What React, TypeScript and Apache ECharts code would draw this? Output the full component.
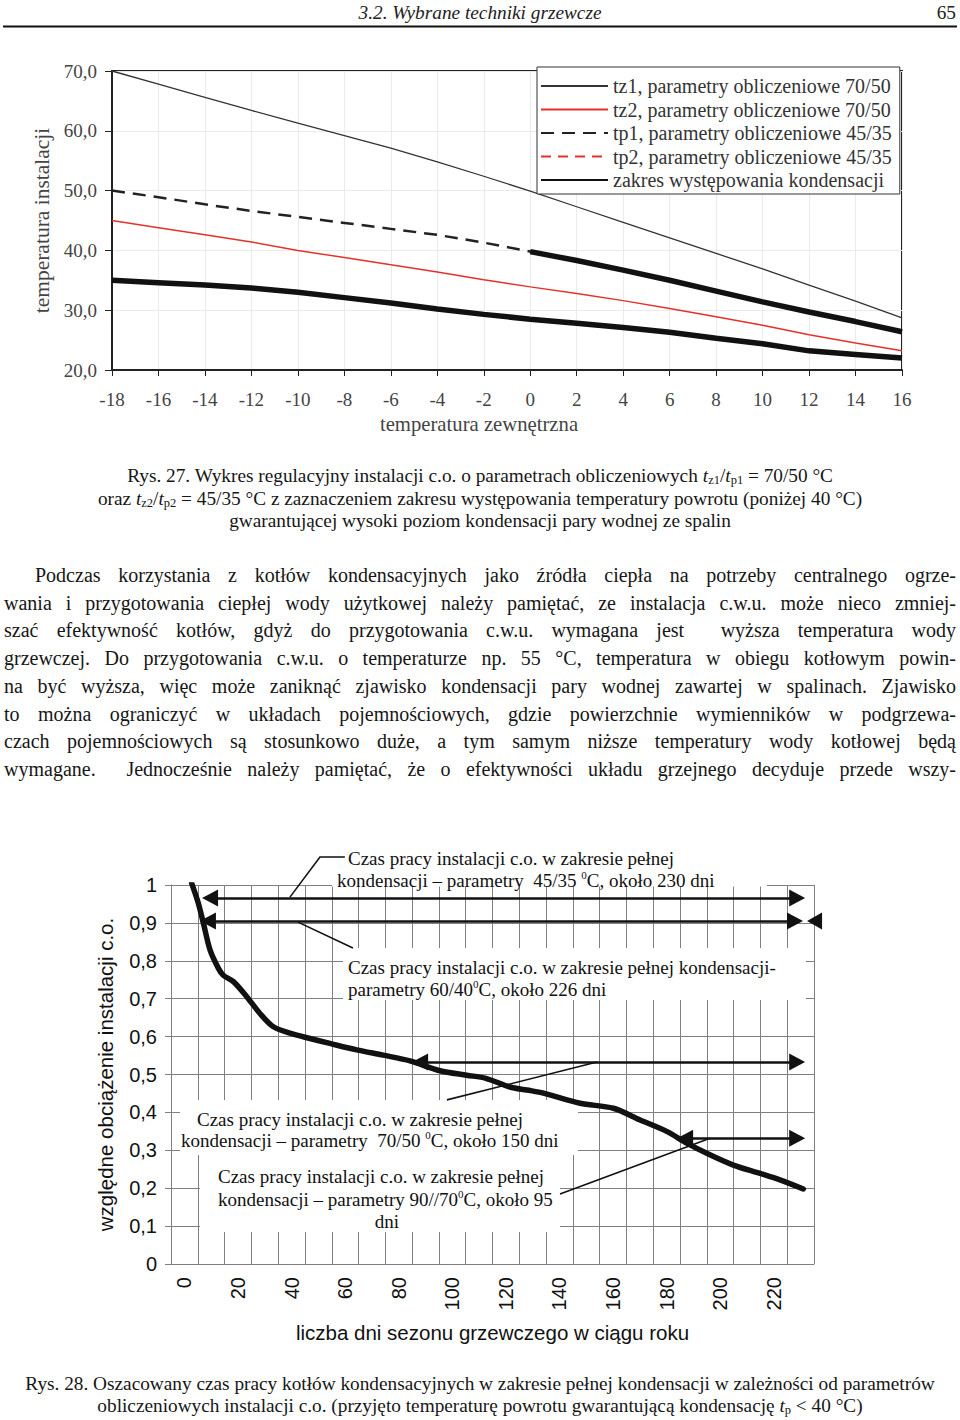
import React, { useEffect, useRef } from 'react';
import * as echarts from 'echarts';

// ---------------- Rys. 27 data ----------------
const outdoorTemps = [-18, -16, -14, -12, -10, -8, -6, -4, -2, 0, 2, 4, 6, 8, 10, 12, 14, 16];
const tz1Values = [70.0, 67.8, 65.6, 63.4, 61.3, 59.2, 57.1, 54.8, 52.4, 49.9, 47.3, 44.7, 42.1, 39.5, 36.9, 34.2, 31.5, 28.7];
const tz2Values = [45.0, 43.8, 42.6, 41.4, 40.0, 38.8, 37.6, 36.4, 35.1, 33.9, 32.8, 31.6, 30.3, 28.9, 27.5, 25.9, 24.5, 23.2];
const tp1Values = [50.0, 48.9, 47.7, 46.6, 45.6, 44.6, 43.6, 42.6, 41.3, 39.8, 38.3, 36.7, 35.0, 33.2, 31.4, 29.7, 28.1, 26.4];
const tp2Values = [35.0, 34.6, 34.2, 33.7, 33.0, 32.1, 31.2, 30.2, 29.3, 28.5, 27.8, 27.1, 26.3, 25.3, 24.4, 23.2, 22.6, 22.0];
const condensationLimit = 40;
const seriesNames27 = [
  'tz1, parametry obliczeniowe 70/50',
  'tz2, parametry obliczeniowe 70/50',
  'tp1, parametry obliczeniowe 45/35',
  'tp2, parametry obliczeniowe 45/35',
  'zakres występowania kondensacji',
];

// ---------------- Rys. 28 data ----------------
const dayCategories = ['0', '10', '20', '30', '40', '50', '60', '70', '80', '90', '100', '110', '120', '130', '140', '150', '160', '170', '180', '190', '200', '210', '220', '230'];
const loadCurveDays = [7.7, 10.2, 12.1, 14.6, 17.7, 19.5, 23.3, 28.2, 33.2, 38.2, 44.4, 51.9, 59.3, 69.3, 79.2, 89.2, 100.4, 110.4, 117.5, 126.5, 132.8, 139.0, 152.7, 165.1, 175.1, 185.0, 192.5, 200.0, 209.9, 219.9, 227.3, 236.0];
const loadCurveValues = [1.005, 0.952, 0.899, 0.828, 0.780, 0.762, 0.745, 0.706, 0.661, 0.626, 0.609, 0.595, 0.582, 0.565, 0.551, 0.536, 0.510, 0.498, 0.490, 0.467, 0.459, 0.451, 0.424, 0.411, 0.380, 0.350, 0.319, 0.292, 0.261, 0.239, 0.222, 0.198];
const regimeLoads = [0.966, 0.905, 0.533, 0.332];
const regimeStartDays = [11.6, 10.8, 90.0, 188.9];
const regimeEndDays = [236.7, 235.9, 236.7, 236.7];
const extraArrowTip = [237.4, 0.905];
const leaderLines = [
  [[64.9, 1.074], [55.6, 1.074], [44.4, 0.968]],
  [[47.4, 0.902], [67.9, 0.834]],
  [[159.0, 0.533], [103.0, 0.433]],
  [[201.2, 0.332], [145.2, 0.185]],
];

// ---------------- page text ----------------
const bodyLines = [
  'Podczas korzystania z kotłów kondensacyjnych jako źródła ciepła na potrzeby centralnego ogrze-',
  'wania i przygotowania ciepłej wody użytkowej należy pamiętać, ze instalacja c.w.u. może nieco zmniej-',
  'szać efektywność kotłów, gdyż do przygotowania c.w.u. wymagana jest  wyższa temperatura wody',
  'grzewczej. Do przygotowania c.w.u. o temperaturze np. 55 °C, temperatura w obiegu kotłowym powin-',
  'na być wyższa, więc może zaniknąć zjawisko kondensacji pary wodnej zawartej w spalinach. Zjawisko',
  'to można ograniczyć w układach pojemnościowych, gdzie powierzchnie wymienników w podgrzewa-',
  'czach pojemnościowych są stosunkowo duże, a tym samym niższe temperatury wody kotłowej będą',
  'wymagane.  Jednocześnie należy pamiętać, że o efektywności układu grzejnego decyduje przede wszy-',
];

const SERIF = '"Liberation Serif", "Times New Roman", serif';
const SANS = '"Liberation Sans", Arial, Helvetica, sans-serif';

const GRID2_W = 643;
const DAY_MAX = 240;

function buildOption() {
  const pts = (vals: number[]) => outdoorTemps.map((t, i) => [t, vals[i]]);
  const condA = outdoorTemps.map((t, i) => [t, tp1Values[i]]).filter((p) => p[1] < condensationLimit);
  const condB = pts(tp2Values);
  const halfArrowDays = (8 * DAY_MAX) / GRID2_W;

  const thick = { color: '#111', width: 5.5, type: 'solid' };

  return {
    animation: false,
    backgroundColor: '#fff',
    grid: [
      { left: 112, top: 71, width: 790, height: 299, show: true, borderColor: '#222', borderWidth: 2, backgroundColor: 'transparent' },
      { left: 171, top: 885, width: GRID2_W, height: 379 },
    ],
    legend: {
      orient: 'vertical',
      left: 537,
      top: 67,
      padding: [9, 8, 4, 3],
      itemWidth: 67,
      itemHeight: 14,
      itemGap: 3.5,
      backgroundColor: '#fff',
      borderColor: '#333',
      borderWidth: 1,
      selectedMode: false,
      itemStyle: { opacity: 0 },
      textStyle: { fontFamily: SERIF, fontSize: 20, color: '#333', lineHeight: 20 },
      data: seriesNames27,
    },
    xAxis: [
      {
        type: 'value', gridIndex: 0, min: -18, max: 16, interval: 2,
        axisLine: { onZero: false, lineStyle: { color: '#222', width: 2 } },
        axisTick: { length: 6, lineStyle: { color: '#222' } },
        axisLabel: { fontFamily: SERIF, fontSize: 19, color: '#444', margin: 20 },
        splitLine: { show: true, lineStyle: { color: '#ebebeb' } },
        name: 'temperatura zewnętrzna', nameLocation: 'middle', nameGap: 43,
        nameTextStyle: { fontFamily: SERIF, fontSize: 20.7, color: '#444', padding: [0, 56, 0, 0] },
      },
      {
        type: 'category', gridIndex: 1, data: dayCategories, boundaryGap: true,
        axisLine: { onZero: false, lineStyle: { color: '#808080' } },
        axisTick: { interval: 0, length: 5, lineStyle: { color: '#808080' } },
        axisLabel: { interval: 1, rotate: 90, fontFamily: SANS, fontSize: 20, color: '#111', margin: 13 },
        splitLine: { show: true, interval: 0, lineStyle: { color: '#808080' } },
        name: 'liczba dni sezonu grzewczego w ciągu roku', nameLocation: 'middle', nameGap: 58,
        nameTextStyle: { fontFamily: SANS, fontSize: 20.5, color: '#111' },
      },
      { type: 'value', gridIndex: 1, min: 0, max: DAY_MAX, show: false },
    ],
    yAxis: [
      {
        type: 'value', gridIndex: 0, min: 20, max: 70, interval: 10,
        axisLine: { show: true, onZero: false, lineStyle: { color: '#222', width: 2 } },
        axisTick: { show: true, length: 7, lineStyle: { color: '#222' } },
        axisLabel: { fontFamily: SERIF, fontSize: 19, color: '#444', margin: 15, formatter: (v: number) => v.toFixed(1).replace('.', ',') },
        splitLine: { show: true, lineStyle: { color: '#ebebeb' } },
        name: 'temperatura instalacji', nameLocation: 'middle', nameGap: 54,
        nameTextStyle: { fontFamily: SERIF, fontSize: 21.5, color: '#444' },
      },
      {
        type: 'value', gridIndex: 1, min: 0, max: 1, interval: 0.1,
        axisLine: { show: true, onZero: false, lineStyle: { color: '#808080' } },
        axisTick: { show: true, length: 6, lineStyle: { color: '#808080' } },
        axisLabel: {
          fontFamily: SANS, fontSize: 20, color: '#111', margin: 14,
          formatter: (v: number) => (Math.abs(v) < 1e-9 ? '0' : Math.abs(v - 1) < 1e-9 ? '1' : v.toFixed(1).replace('.', ',')),
        },
        splitLine: { show: true, lineStyle: { color: '#808080' } },
        name: 'względne obciążenie instalacji c.o.', nameLocation: 'middle', nameGap: 55,
        nameTextStyle: { fontFamily: SANS, fontSize: 20.5, color: '#111' },
      },
    ],
    series: [
      { name: seriesNames27[0], type: 'line', xAxisIndex: 0, yAxisIndex: 0, data: pts(tz1Values), symbol: 'none', color: '#333', lineStyle: { color: '#333', width: 1.3 } },
      { name: seriesNames27[1], type: 'line', xAxisIndex: 0, yAxisIndex: 0, data: pts(tz2Values), symbol: 'none', color: '#e4322b', lineStyle: { color: '#e4322b', width: 1.5 } },
      { name: seriesNames27[2], type: 'line', xAxisIndex: 0, yAxisIndex: 0, data: pts(tp1Values), symbol: 'none', color: '#222', lineStyle: { color: '#222', width: 2.5, type: [13, 8] } },
      { name: seriesNames27[3], type: 'line', xAxisIndex: 0, yAxisIndex: 0, data: pts(tp2Values), symbol: 'none', color: '#e4322b', lineStyle: { color: '#e4322b', width: 2, type: [10, 7] } },
      { name: seriesNames27[4], type: 'line', xAxisIndex: 0, yAxisIndex: 0, data: condA, symbol: 'none', color: '#111', lineStyle: thick },
      { name: seriesNames27[4], type: 'line', xAxisIndex: 0, yAxisIndex: 0, data: condB, symbol: 'none', color: '#111', lineStyle: thick },
      {
        name: 'względne obciążenie', type: 'line', xAxisIndex: 2, yAxisIndex: 1,
        data: loadCurveDays.map((d, i) => [d, loadCurveValues[i]]),
        symbol: 'none', smooth: 0.3, color: '#111',
        lineStyle: { color: '#111', width: 5.5, cap: 'round', join: 'round' },
        markLine: {
          silent: true,
          symbol: ['triangle', 'triangle'],
          symbolSize: [17, 16],
          label: { show: false },
          emphasis: { disabled: true },
          lineStyle: { color: '#111', width: 2.5, type: 'solid' },
          itemStyle: { color: '#111' },
          data: regimeLoads.map((l, i) => [
            { coord: [regimeStartDays[i] + halfArrowDays, l] },
            { coord: [regimeEndDays[i] - halfArrowDays, l] },
          ]),
        },
      },
    ],
  };
}

function justifyLine(ctx: CanvasRenderingContext2D, line: string, x0: number, x1: number, y: number, fontSize: number) {
  ctx.font = `${fontSize}px "Liberation Serif"`;
  const words = line.split(' ');
  const widths = words.map((w) => ctx.measureText(w).width);
  const total = widths.reduce((a, b) => a + b, 0);
  const gap = (x1 - x0 - total) / (words.length - 1);
  const out: any[] = [];
  let x = x0;
  words.forEach((w, i) => {
    if (w) {
      out.push({
        type: 'text', x, y, z: 10,
        style: { text: w, fontFamily: SERIF, fontSize, fill: '#161616', align: 'left', verticalAlign: 'middle' },
      });
    }
    x += widths[i] + gap;
  });
  return out;
}

function buildGraphics(chart: any) {
  const els: any[] = [];
  const toPx = (p: number[]) => chart.convertToPixel({ xAxisIndex: 2, yAxisIndex: 1 }, p) as number[];

  // header
  els.push({ type: 'text', x: 480, y: 12, z: 10, style: { text: '3.2. Wybrane techniki grzewcze', fontFamily: SERIF, fontStyle: 'italic', fontSize: 19.3, fill: '#222', align: 'center', verticalAlign: 'middle' } });
  els.push({ type: 'text', x: 956, y: 12, z: 10, style: { text: '65', fontFamily: SERIF, fontSize: 19.3, fill: '#222', align: 'right', verticalAlign: 'middle' } });
  els.push({ type: 'line', z: 10, shape: { x1: 3, y1: 26.5, x2: 957, y2: 26.5 }, style: { stroke: '#111', lineWidth: 2 } });

  // captions
  const CAP = 19.3;
  const capRich = {
    i: { fontFamily: SERIF, fontStyle: 'italic', fontSize: CAP, fill: '#161616' },
    sub: { fontFamily: SERIF, fontSize: 12.5, fill: '#161616', verticalAlign: 'bottom', lineHeight: 15 },
  };
  const capStyle = { fontFamily: SERIF, fontSize: CAP, fill: '#161616', align: 'center', verticalAlign: 'middle', lineHeight: 23, rich: capRich };
  els.push({ type: 'text', x: 480, y: 475, z: 10, style: { ...capStyle, text: 'Rys. 27. Wykres regulacyjny instalacji c.o. o parametrach obliczeniowych {i|t}{sub|z1}/{i|t}{sub|p1} = 70/50 °C' } });
  els.push({ type: 'text', x: 480, y: 498, z: 10, style: { ...capStyle, text: 'oraz {i|t}{sub|z2}/{i|t}{sub|p2} = 45/35 °C z zaznaczeniem zakresu występowania temperatury powrotu (poniżej 40 °C)' } });
  els.push({ type: 'text', x: 480, y: 520, z: 10, style: { ...capStyle, text: 'gwarantującej wysoki poziom kondensacji pary wodnej ze spalin' } });

  // body text (justified)
  const ctx = document.createElement('canvas').getContext('2d') as CanvasRenderingContext2D;
  const bodyY = [575, 603, 630, 658, 686, 714, 741, 769];
  bodyLines.forEach((ln, i) => {
    els.push(...justifyLine(ctx, ln, i === 0 ? 35 : 4, 956, bodyY[i], 20));
  });

  els.push({ type: 'text', x: 480, y: 1383, z: 10, style: { ...capStyle, text: 'Rys. 28. Oszacowany czas pracy kotłów kondensacyjnych w zakresie pełnej kondensacji w zależności od parametrów' } });
  els.push({ type: 'text', x: 480, y: 1405, z: 10, style: { ...capStyle, text: 'obliczeniowych instalacji c.o. (przyjęto temperaturę powrotu gwarantującą kondensację {i|t}{sub|p} < 40 °C)' } });

  // white label boxes in chart 28
  const boxes = [
    [332, 845, 435, 41.5],
    [343, 948, 463, 52],
    [180, 1100, 398, 55],
    [200, 1155, 360, 77],
  ];
  boxes.forEach((b) => els.push({ type: 'rect', z: 1, shape: { x: b[0], y: b[1], width: b[2], height: b[3] }, style: { fill: '#fff' } }));

  const annRich = { sup: { fontFamily: SERIF, fontSize: 11, fill: '#111', verticalAlign: 'top', lineHeight: 13 } };
  const ann = (x: number, y: number, text: string, align = 'left') => ({
    type: 'text', x, y, z: 10,
    style: { text, fontFamily: SERIF, fontSize: 19, fill: '#111', align, verticalAlign: 'middle', lineHeight: 21, rich: annRich },
  });
  els.push(ann(348, 858, 'Czas pracy instalacji c.o. w zakresie pełnej'));
  els.push(ann(337, 880, 'kondensacji – parametry  45/35 {sup|0}C, około 230 dni'));
  els.push(ann(348, 967, 'Czas pracy instalacji c.o. w zakresie pełnej kondensacji-'));
  els.push(ann(348, 989, 'parametry 60/40{sup|0}C, około 226 dni'));
  els.push(ann(197, 1119, 'Czas pracy instalacji c.o. w zakresie pełnej'));
  els.push(ann(181, 1140, 'kondensacji – parametry  70/50 {sup|0}C, około 150 dni'));
  els.push(ann(218, 1176, 'Czas pracy instalacji c.o. w zakresie pełnej'));
  els.push(ann(218, 1199, 'kondensacji – parametry 90//70{sup|0}C, około 95'));
  els.push(ann(387, 1221, 'dni', 'center'));

  // leader lines
  leaderLines.forEach((ln) => {
    els.push({ type: 'polyline', z: 5, shape: { points: ln.map(toPx) }, style: { stroke: '#111', lineWidth: 1.6, fill: null } });
  });

  // extra left-pointing arrowhead at the 60/40 arrow
  const tip = toPx(extraArrowTip);
  els.push({ type: 'polygon', z: 5, shape: { points: [[tip[0], tip[1]], [tip[0] + 15, tip[1] - 8.5], [tip[0] + 15, tip[1] + 8.5]] }, style: { fill: '#111' } });

  return els;
}

export default function App() {
  const ref = useRef<HTMLDivElement>(null);
  useEffect(() => {
    const chart = echarts.init(ref.current as HTMLDivElement, undefined, { renderer: 'svg', width: 960, height: 1420 });
    chart.setOption(buildOption() as any);
    chart.setOption({ graphic: buildGraphics(chart) } as any);
    return () => chart.dispose();
  }, []);
  return <div ref={ref} style={{ position: 'absolute', left: 0, top: 0, width: 960, height: 1420, background: '#fff' }} />;
}
